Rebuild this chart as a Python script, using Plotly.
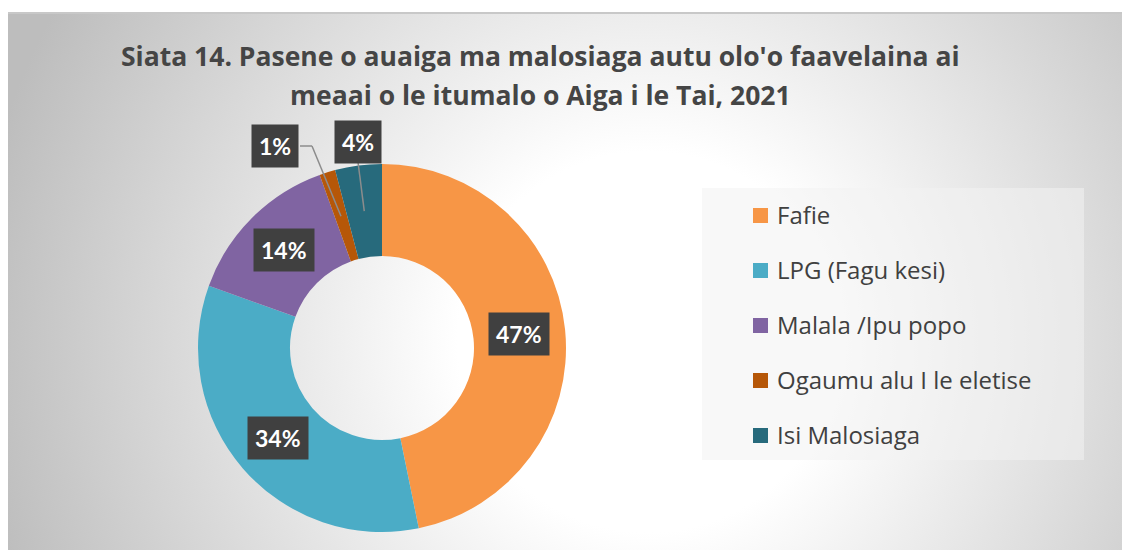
import base64, math
import plotly.graph_objects as go

W, H = 1131, 550

labels = ["Fafie", "LPG (Fagu kesi)", "Malala /Ipu popo", "Ogaumu alu I le eletise", "Isi Malosiaga"]
values = [46.8, 33.7, 14.0, 1.4, 4.1]
colors = ["#F79646", "#4BACC6", "#8064A2", "#B65708", "#276A7C"]
title_lines = ["Siata 14. Pasene o auaiga ma malosiaga autu olo'o faavelaina ai",
               "meaai o le itumalo o Aiga i le Tai, 2021"]

FONT = "Open Sans"

# pie geometry (pixels)
cx, cy, R = 382, 348, 184

def px(x):
    return x / W

def py(y):
    return 1 - y / H

fig = go.Figure()
fig.add_trace(go.Pie(
    labels=labels, values=values, hole=0.5, sort=False, direction="clockwise",
    rotation=0, marker=dict(colors=colors, line=dict(width=0)),
    textinfo="none", showlegend=False,
    domain=dict(x=[px(cx - R), px(cx + R)], y=[py(cy + R), py(cy - R)]),
))

# background radial gradient
svg = f'''<svg xmlns="http://www.w3.org/2000/svg" width="1114" height="538" viewBox="0 0 1114 538">
<defs><radialGradient id="g" gradientUnits="userSpaceOnUse" cx="640" cy="330" r="680">
<stop offset="0" stop-color="#ffffff"/><stop offset="0.28" stop-color="#ffffff"/>
<stop offset="1" stop-color="#bdbdbd"/></radialGradient></defs>
<rect width="1114" height="538" fill="url(#g)"/>
<rect x="0" y="0" width="1114" height="2" fill="#c8c8c8"/></svg>'''
src = "data:image/svg+xml;base64," + base64.b64encode(svg.encode()).decode()
fig.add_layout_image(dict(source=src, xref="paper", yref="paper", x=px(8), y=py(12),
                          sizex=px(1114), sizey=538 / H, sizing="stretch",
                          xanchor="left", yanchor="top", layer="below"))

annotations = []
shapes = []
# title
for i, t in enumerate(title_lines):
    annotations.append(dict(text=f"<b>{t}</b>", x=px(540), y=py(56 + 39 * i), xref="paper", yref="paper",
                            showarrow=False, xanchor="center", yanchor="middle",
                            font=dict(family=FONT, size=26.5, color="#454545")))

# data labels
total = sum(values)
cum = 0
boxes = {3: (275, 146), 4: (358, 142)}
for i, v in enumerate(values):
    mid = (cum + v / 2) / total * 2 * math.pi
    cum += v
    r = 138
    x = cx + r * math.sin(mid)
    y = cy - r * math.cos(mid)
    txt = f"<b>{round(v / total * 100):.0f}%</b>"
    common = dict(text=txt, xref="paper", yref="paper", bgcolor="#404040", borderpad=7,
                  showarrow=False, xanchor="center", yanchor="middle",
                  font=dict(family="Lato", size=23, color="white"))
    if i in boxes:
        bx, by = boxes[i]
        if i == 3:
            pts = [(x, y), (bx + 37, by), (bx + 25, by)]
        else:
            pts = [(x, y), (bx, by + 20)]
        for (x0, y0), (x1, y1) in zip(pts[:-1], pts[1:]):
            shapes.append(dict(type="line", xref="paper", yref="paper", x0=px(x0), y0=py(y0),
                               x1=px(x1), y1=py(y1), line=dict(color="#8c8c8c", width=1.5)))
        annotations.append(dict(x=px(bx), y=py(by), **common))
    else:
        annotations.append(dict(x=px(x), y=py(y), **common))

shapes.insert(0, dict(type="rect", xref="paper", yref="paper", x0=px(702), x1=px(1084), y0=py(460), y1=py(188),
                      fillcolor="rgba(242,242,242,0.55)", line=dict(width=0), layer="below"))
# legend
for i, (lab, col) in enumerate(zip(labels, colors)):
    yy = 215.5 + 55 * i
    shapes.append(dict(type="rect", xref="paper", yref="paper", x0=px(753), x1=px(768),
                       y0=py(yy + 7.5), y1=py(yy - 7.5), fillcolor=col, line=dict(width=0)))
    annotations.append(dict(text=lab, x=px(775), y=py(yy - 1), xref="paper", yref="paper", showarrow=False,
                            xanchor="left", yanchor="middle",
                            font=dict(family=FONT, size=24, color="#404040")))

fig.update_layout(width=W, height=H, margin=dict(l=0, r=0, t=0, b=0),
                  paper_bgcolor="white", plot_bgcolor="white",
                  annotations=annotations, shapes=shapes)
fig.write_html("out.html", config={"displayModeBar": False},
               post_script="document.body.style.margin='0px';")
